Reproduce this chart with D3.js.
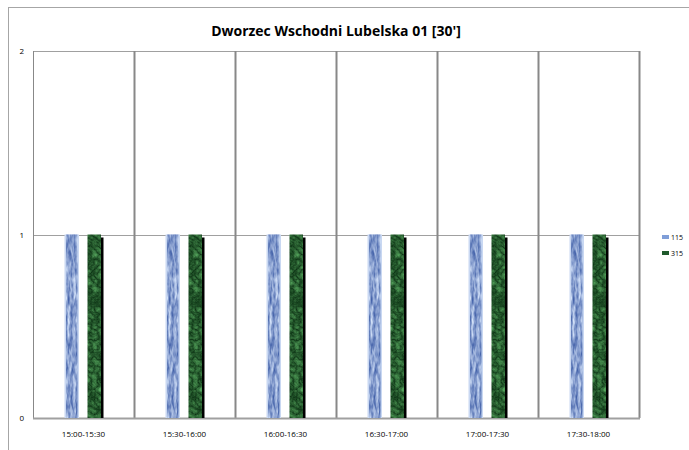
<!DOCTYPE html>
<html>
<head>
<meta charset="utf-8">
<script src="https://cdn.jsdelivr.net/npm/d3@7"></script>
<style>
  body { margin: 0; background: #fff; }
  svg { display: block; font-family: "Open Sans", "Liberation Sans", sans-serif; }
</style>
</head>
<body>
<div id="chart"></div>
<script>
// Dworzec Wschodni Lubelska 01 - counts per 30 minute window

const categories = ['15:00-15:30', '15:30-16:00', '16:00-16:30', '16:30-17:00', '17:00-17:30', '17:30-18:00'];
const seriesNames = ['115', '315'];
const values115 = [1, 1, 1, 1, 1, 1];
const values315 = [1, 1, 1, 1, 1, 1];
const yTicks = [0, 1, 2];

const width = 689;
const height = 450;
const plot = { left: 33, right: 639, top: 51, bottom: 418 };

const svg = d3.select('#chart')
  .append('svg')
  .attr('width', width)
  .attr('height', height);

// textures for the two series
const defs = svg.append('defs');

function texture(id, type, freq, seed, matrix) {
  const f = defs.append('filter').attr('id', id)
    .attr('x', 0).attr('y', 0).attr('width', 1).attr('height', 1)
    .attr('color-interpolation-filters', 'sRGB');
  f.append('feTurbulence')
    .attr('type', type)
    .attr('baseFrequency', freq)
    .attr('numOctaves', 3)
    .attr('seed', seed)
    .attr('result', 'noise');
  f.append('feColorMatrix')
    .attr('in', 'noise')
    .attr('type', 'matrix')
    .attr('values', matrix)
    .attr('result', 'col');
  f.append('feComposite').attr('in', 'col').attr('in2', 'SourceGraphic').attr('operator', 'in');
}

texture('waterTex', 'fractalNoise', '0.35 0.08', 3,
  '0.9 0 0 0 0.08  0.8 0 0 0 0.22  0.5 0 0 0 0.56  0 0 0 0 1');
texture('marbleTex', 'turbulence', '0.15', 7,
  '0.35 0 0 0 0.05  0.55 0 0 0 0.2  0.35 0 0 0 0.08  0 0 0 0 1');

// outer chart frame (runs off the right and bottom edge)
svg.append('rect')
  .attr('x', 8.5).attr('y', 7.5)
  .attr('width', width).attr('height', height)
  .attr('fill', 'none')
  .attr('stroke', '#a6a6a6')
  .attr('stroke-width', 1);

svg.append('text')
  .attr('x', (plot.left + plot.right) / 2)
  .attr('y', 36)
  .attr('text-anchor', 'middle')
  .attr('font-size', 14)
  .attr('font-weight', 'bold')
  .attr('fill', '#000')
  .text("Dworzec Wschodni Lubelska 01 [30']");

const x = d3.scaleBand()
  .domain(categories)
  .range([plot.left, plot.right]);

const y = d3.scaleLinear()
  .domain([0, 2])
  .range([plot.bottom, plot.top]);

// horizontal gridlines
svg.append('g')
  .selectAll('line')
  .data(yTicks.filter(t => t > 0))
  .join('line')
  .attr('x1', plot.left).attr('x2', plot.right)
  .attr('y1', d => Math.round(y(d)) + 0.5)
  .attr('y2', d => Math.round(y(d)) + 0.5)
  .attr('stroke', '#a0a0a0')
  .attr('stroke-width', 1);

// vertical separators between categories
const edges = categories.map(c => x(c)).concat([plot.right]);
svg.append('g')
  .selectAll('line')
  .data(edges)
  .join('line')
  .attr('x1', d => Math.round(d) + 0.5)
  .attr('x2', d => Math.round(d) + 0.5)
  .attr('y1', plot.top)
  .attr('y2', plot.bottom)
  .attr('stroke', '#888')
  .attr('stroke-width', d => (d === plot.left ? 1 : 2));

// bottom axis line
svg.append('line')
  .attr('x1', plot.left).attr('x2', plot.right + 1)
  .attr('y1', plot.bottom + 0.5).attr('y2', plot.bottom + 0.5)
  .attr('stroke', '#a0a0a0')
  .attr('stroke-width', 2);

// y tick labels
svg.append('g')
  .selectAll('text')
  .data(yTicks)
  .join('text')
  .attr('x', 24)
  .attr('y', d => y(d) + 3)
  .attr('text-anchor', 'end')
  .attr('font-size', 8)
  .attr('fill', '#000')
  .text(d => d);

// x tick labels
svg.append('g')
  .selectAll('text')
  .data(categories)
  .join('text')
  .attr('x', d => x(d) + x.bandwidth() / 2)
  .attr('y', 437)
  .attr('text-anchor', 'middle')
  .attr('font-size', 8)
  .attr('fill', '#000')
  .text(d => d);

// bars: inner band for the two series
const inner = d3.scaleBand()
  .domain(seriesNames)
  .range([0, 36])
  .paddingInner(0.4);
const groupOffset = (x.bandwidth() - 36) / 2 - 0.5;

const rows = categories.map((c, i) => ({ cat: c, v115: values115[i], v315: values315[i] }));

const groups = svg.append('g')
  .selectAll('g')
  .data(rows)
  .join('g')
  .attr('transform', d => `translate(${x(d.cat) + groupOffset},0)`);

// series 115 - blue water texture with pale edges
groups.append('rect')
  .attr('x', inner('115') - 0.5)
  .attr('y', d => y(d.v115))
  .attr('width', inner.bandwidth() + 1)
  .attr('height', d => y(0) - y(d.v115))
  .attr('fill', '#c9d8f2');
groups.append('rect')
  .attr('x', inner('115') + 1)
  .attr('y', d => y(d.v115))
  .attr('width', inner.bandwidth() - 2)
  .attr('height', d => y(0) - y(d.v115))
  .attr('fill', '#6f8fd0')
  .attr('filter', 'url(#waterTex)');

// series 315 - dark green marble with a black shadow on the right
groups.append('rect')
  .attr('x', inner('315') + inner.bandwidth())
  .attr('y', d => y(d.v315) + 3)
  .attr('width', 2.5)
  .attr('height', d => y(0) - y(d.v315) - 3)
  .attr('fill', '#000');
groups.append('rect')
  .attr('x', inner('315'))
  .attr('y', d => y(d.v315))
  .attr('width', inner.bandwidth())
  .attr('height', d => y(0) - y(d.v315))
  .attr('fill', '#1e5a2c')
  .attr('filter', 'url(#marbleTex)');

// legend
const legendColors = { '115': '#7f9ed8', '315': '#1f5a2c' };
const legend = svg.append('g')
  .selectAll('g')
  .data(seriesNames)
  .join('g')
  .attr('transform', (d, i) => `translate(662,${235 + i * 16})`);
legend.append('rect')
  .attr('width', 7).attr('height', 4)
  .attr('fill', d => legendColors[d]);
legend.append('text')
  .attr('x', 9)
  .attr('y', 5)
  .attr('font-size', 7)
  .attr('fill', '#000')
  .text(d => d);
</script>
</body>
</html>
